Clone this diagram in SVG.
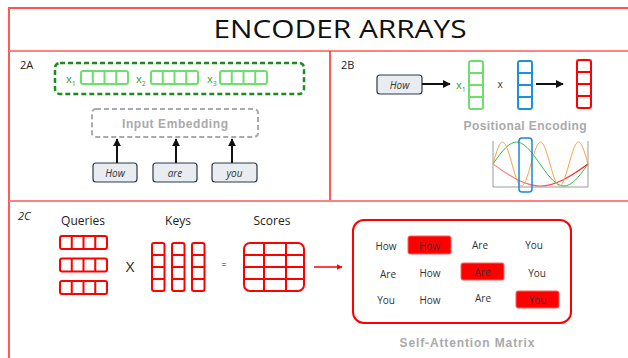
<svg xmlns="http://www.w3.org/2000/svg" xmlns:xlink="http://www.w3.org/1999/xlink" width="628" height="358" viewBox="0 0 628 358">
<style>
  .frame{stroke:#ff5a5a;stroke-width:2;fill:none}
  .lbl{font-family:"Open Sans","DejaVu Sans",sans-serif;fill:#222}
  .cap{font-family:"Liberation Sans",Arial,sans-serif;font-weight:bold;fill:#aaaaaa;font-size:12px;text-anchor:middle}
  .word{font-family:"Open Sans","DejaVu Sans",sans-serif;font-size:10px;fill:#333;text-anchor:middle}
  .wbox{fill:#e9edf1;stroke:#2b3a4a;stroke-width:1.2}
  .gv{fill:none;stroke:#6ddf6d;stroke-width:2}
  .bv{fill:none;stroke:#1e90e0;stroke-width:2}
  .rv{fill:none;stroke:#ff0000;stroke-width:2}
  .arr{stroke:#111;stroke-width:2;fill:none}
  .xl{font-family:"Open Sans","DejaVu Sans",sans-serif;font-size:11px;fill:#3a9a3a}
  .hl{fill:#ff0000;stroke:#ff6060;stroke-width:1}
</style>
<defs>
  <marker id="ah" viewBox="0 0 10 10" refX="9" refY="5" markerWidth="4" markerHeight="4" orient="auto">
    <path d="M0,0 L10,5 L0,10 z" fill="#111"/>
  </marker>
  <marker id="ahr" viewBox="0 0 10 10" refX="9" refY="5" markerWidth="4" markerHeight="4" orient="auto">
    <path d="M0,0 L10,5 L0,10 z" fill="#ff0000"/>
  </marker>
  <g id="hvec">
    <rect x="0" y="0" width="47" height="13" rx="2"/>
    <path d="M11.75,0 V13 M23.5,0 V13 M35.25,0 V13"/>
  </g>
  <g id="vvec">
    <rect x="0" y="0" width="14" height="48" rx="2"/>
    <path d="M0,12 H14 M0,24 H14 M0,36 H14"/>
  </g>
  <g id="kvec">
    <rect x="0" y="0" width="12.5" height="48" rx="2"/>
    <path d="M0,12 H12.5 M0,24 H12.5 M0,36 H12.5"/>
  </g>
  <linearGradient id="rg" x1="0" y1="0" x2="1" y2="0">
    <stop offset="0" stop-color="#ff9a9a"/>
    <stop offset="1" stop-color="#ff1010"/>
  </linearGradient>
</defs>

<!-- frame -->
<g id="frame">
  <line x1="8" y1="8" x2="628" y2="8" stroke="#ff1a1a" stroke-width="1.5"/>
  <line x1="9" y1="8" x2="9" y2="358" class="frame"/>
  <line x1="9" y1="51" x2="628" y2="51" stroke="#ff8080" stroke-width="2"/>
  <line x1="330" y1="51" x2="330" y2="201" stroke="#ff2020" stroke-width="1.5"/>
  <line x1="9" y1="201" x2="628" y2="201" stroke="#ff8080" stroke-width="2"/>
  <text x="340" y="38" text-anchor="middle" font-family="'Open Sans','DejaVu Sans',sans-serif" font-size="26" fill="#111" textLength="253" lengthAdjust="spacingAndGlyphs">ENCODER ARRAYS</text>
</g>

<!-- Panel 2A -->
<g id="panel-2A">
  <text x="20" y="69" class="lbl" font-size="11">2A</text>
  <g id="embeddings">
    <rect x="55" y="63" width="249" height="31" rx="5" fill="none" stroke="#1f8a1f" stroke-width="2.5" stroke-dasharray="5,3"/>
    <text x="66" y="83" class="xl">x<tspan font-size="7" dy="3">1</tspan></text>
    <use xlink:href="#hvec" x="81" y="71" class="gv"/>
    <text x="136" y="83" class="xl">x<tspan font-size="7" dy="3">2</tspan></text>
    <use xlink:href="#hvec" x="151" y="71" class="gv"/>
    <text x="207" y="83" class="xl">x<tspan font-size="7" dy="3">3</tspan></text>
    <use xlink:href="#hvec" x="220" y="71" class="gv"/>
  </g>
  <g id="input-embedding">
    <rect x="92" y="109" width="166" height="28" rx="4" fill="none" stroke="#aaaaaa" stroke-width="2" stroke-dasharray="5,3"/>
    <text x="175" y="128" class="cap" textLength="106" lengthAdjust="spacing">Input Embedding</text>
  </g>
  <g id="w-how"><rect x="93" y="163" width="44" height="19" rx="3" class="wbox"/><text x="115" y="177" class="word" font-style="italic">How</text></g>
  <g id="w-are"><rect x="153" y="163" width="44" height="19" rx="3" class="wbox"/><text x="175" y="177" class="word" font-style="italic">are</text></g>
  <g id="w-you"><rect x="212" y="163" width="45" height="19" rx="3" class="wbox"/><text x="234.5" y="177" class="word" font-style="italic">you</text></g>
</g>

<!-- Panel 2B -->
<g id="panel-2B">
  <text x="341" y="69" class="lbl" font-size="11">2B</text>
  <g id="b-how"><rect x="377" y="75" width="45" height="19" rx="3" class="wbox"/><text x="399.5" y="89" class="word" font-style="italic">How</text></g>
  <text x="456" y="89" class="xl">x<tspan font-size="7" dy="3">1</tspan></text>
  <use id="b-green" xlink:href="#vvec" x="469" y="61" class="gv"/>
  <text x="500" y="88" class="word" font-size="11">x</text>
  <use id="b-blue" xlink:href="#vvec" x="518" y="61" class="bv"/>
  <use id="b-red" xlink:href="#vvec" x="577" y="60" class="rv"/>
  <text x="525" y="130" class="cap" textLength="123" lengthAdjust="spacing">Positional Encoding</text>
  <g id="sine-plot">
    <path d="M493,141 V187 H588 V141" fill="none" stroke="#9a9a9a" stroke-width="1"/>
    <path d="M493,164 C533.3,193.33 547.7,193.33 588,164" fill="none" stroke="url(#rg)" stroke-width="1.2"/>
    <path d="M493,164 C512.95,134.67 520.05,134.67 540,164 C559.95,193.33 568.05,193.33 588,164" fill="none" stroke="#3cb54a" stroke-width="1"/>
    <path d="M493,164 C501.06,134.67 503.94,134.67 512,164 C520.06,193.33 522.94,193.33 531,164 C539.06,134.67 541.94,134.67 550,164 C558.06,193.33 560.94,193.33 569,164 C577.06,134.67 579.94,134.67 588,164" fill="none" stroke="#f5a54a" stroke-width="1"/>
    <rect x="519" y="138" width="13" height="54" rx="3" fill="none" stroke="#1a88d8" stroke-width="1.5"/>
  </g>
</g>

<!-- Panel 2C -->
<g id="panel-2C">
  <text x="18" y="220" class="lbl" font-size="11" font-style="italic">2C</text>
  <g id="queries">
    <text x="83" y="225" class="lbl" font-size="12" text-anchor="middle">Queries</text>
    <use xlink:href="#hvec" x="60" y="236" class="rv"/>
    <use xlink:href="#hvec" x="60" y="258.5" class="rv"/>
    <use xlink:href="#hvec" x="60" y="281" class="rv"/>
  </g>
  <text x="130" y="272" class="lbl" font-size="15" text-anchor="middle">X</text>
  <g id="keys">
    <text x="178" y="225" class="lbl" font-size="12" text-anchor="middle">Keys</text>
    <use xlink:href="#kvec" x="152" y="243" class="rv"/>
    <use xlink:href="#kvec" x="172" y="243" class="rv"/>
    <use xlink:href="#kvec" x="192" y="243" class="rv"/>
  </g>
  <text x="224" y="268" class="lbl" font-size="9" text-anchor="middle">=</text>
  <g id="scores">
    <text x="272" y="225" class="lbl" font-size="12" text-anchor="middle">Scores</text>
    <rect x="244" y="243" width="60" height="48" rx="6" class="rv"/>
    <path d="M264,243 V291 M286,243 V291 M244,255 H304 M244,267 H304 M244,279 H304" class="rv"/>
  </g>
  <g id="matrix">
    <rect x="353" y="220" width="218" height="103" rx="11" fill="none" stroke="#ff0000" stroke-width="2"/>
    <text x="386" y="250" class="word">How</text>
    <rect x="408" y="236" width="43" height="18" rx="2" class="hl"/>
    <text x="429.5" y="250" class="word" fill="#222">How</text>
    <text x="480" y="249" class="word">Are</text>
    <text x="534" y="249" class="word">You</text>

    <text x="388" y="278" class="word">Are</text>
    <text x="430" y="277" class="word">How</text>
    <rect x="461" y="263" width="43" height="17" rx="2" class="hl"/>
    <text x="482.5" y="276" class="word" fill="#222">Are</text>
    <text x="537" y="277" class="word">You</text>

    <text x="386" y="304" class="word">You</text>
    <text x="430" y="304" class="word">How</text>
    <text x="483" y="302" class="word">Are</text>
    <rect x="516" y="291" width="43" height="17" rx="2" class="hl"/>
    <text x="537.5" y="304" class="word" fill="#222">You</text>
  </g>
  <text x="467" y="347" class="cap" textLength="135" lengthAdjust="spacing">Self-Attention Matrix</text>
</g>

<!-- connectors -->
<g id="connectors">
  <line x1="117" y1="163" x2="117" y2="139" class="arr" marker-end="url(#ah)"/>
  <line x1="176" y1="163" x2="176" y2="139" class="arr" marker-end="url(#ah)"/>
  <line x1="232" y1="163" x2="232" y2="139" class="arr" marker-end="url(#ah)"/>
  <line x1="422" y1="84" x2="450" y2="84" class="arr" marker-end="url(#ah)"/>
  <line x1="536" y1="84" x2="563" y2="84" class="arr" marker-end="url(#ah)"/>
  <line x1="314" y1="267" x2="342" y2="267" stroke="#ff0000" stroke-width="1.5" marker-end="url(#ahr)"/>
</g>
</svg>
